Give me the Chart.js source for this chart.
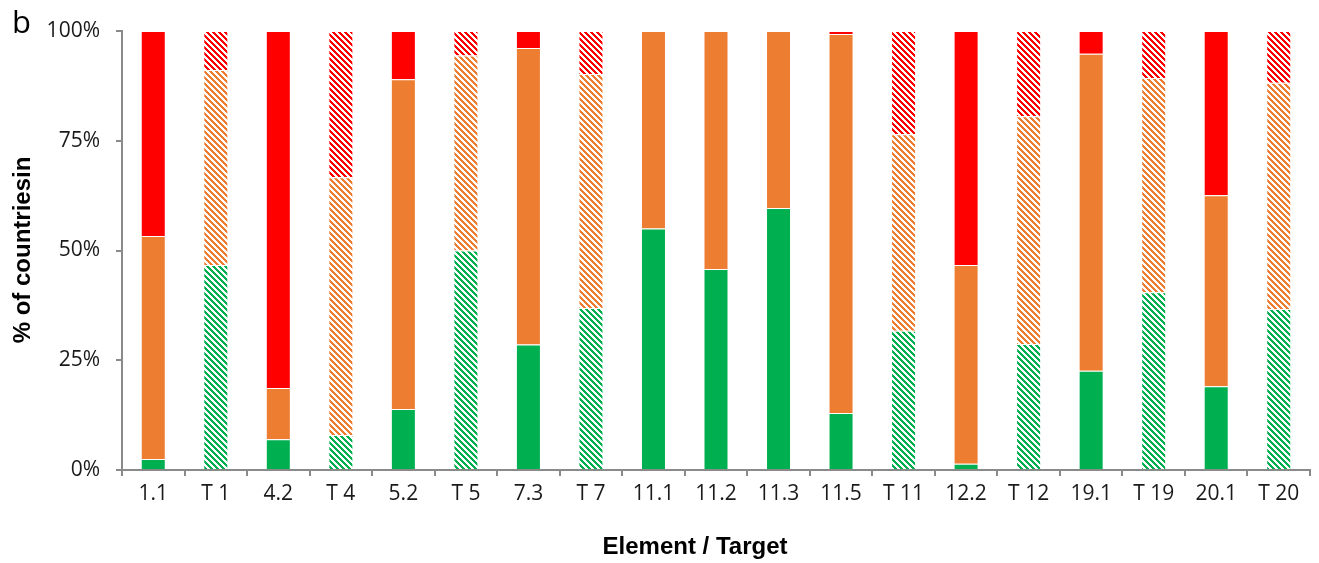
<!DOCTYPE html>
<html>
<head>
<meta charset="utf-8">
<script src="https://cdn.jsdelivr.net/npm/chart.js@4.4.1/dist/chart.umd.min.js"></script>
<style>
  html, body { margin: 0; padding: 0; background: #fff; }
  #wrap { width: 1319px; height: 563px; position: relative; }
</style>
</head>
<body>
<div id="wrap"><canvas id="c" width="1319" height="563"></canvas></div>
<script>
// ---- data ----
const categories = ['1.1','T 1','4.2','T 4','5.2','T 5','7.3','T 7','11.1','11.2','11.3','11.5','T 11','12.2','T 12','19.1','T 19','20.1','T 20'];
const isTarget   = [false,true,false,true,false,true,false,true,false,false,false,false,true,false,true,false,true,false,true];
const greenVals  = [2.5, 46.7, 7.0, 8.0, 13.9, 50.0, 28.6, 36.9, 55.0, 45.8, 59.7, 13.0, 31.7, 1.4, 28.7, 22.6, 40.5, 19.1, 36.7];
const orangeVals = [50.8, 44.4, 11.7, 58.7, 75.1, 44.4, 67.5, 53.3, 45.0, 54.2, 40.3, 86.3, 44.8, 45.3, 51.9, 72.2, 48.8, 43.5, 51.5];
const redVals    = [46.7, 8.9, 81.3, 33.3, 11.0, 5.6, 3.9, 9.8, 0, 0, 0, 0.7, 23.5, 53.3, 19.4, 5.2, 10.7, 37.4, 11.8];
const yTicks     = [0, 25, 50, 75, 100];

const GREEN = '#00B050', ORANGE = '#ED7D31', RED = '#FF0000';

function makePattern(color) {
  const size = 6;
  const cv = document.createElement('canvas');
  cv.width = size; cv.height = size;
  const cx = cv.getContext('2d');
  cx.fillStyle = '#ffffff';
  cx.fillRect(0, 0, size, size);
  cx.fillStyle = color;
  for (let y = 0; y < size; y++) {
    for (let x = 0; x < size; x++) {
      if ((((x - y) % size) + size) % size < 3) cx.fillRect(x, y, 1, 1);
    }
  }
  return document.getElementById('c').getContext('2d').createPattern(cv, 'repeat');
}

function fills(color) {
  const pat = makePattern(color);
  return isTarget.map(t => t ? pat : color);
}
function borders() {
  return isTarget.map(t => t ? '#ffffff' : 'rgba(255,255,255,0.55)');
}

const titlePlugin = {
  id: 'titles',
  afterDraw(chart) {
    const ctx = chart.ctx;
    ctx.save();
    ctx.fillStyle = '#000';
    ctx.textBaseline = 'alphabetic';
    ctx.textAlign = 'left';
    ctx.font = '31px "Open Sans"';
    ctx.fillText('b', 12, 33);
    ctx.textBaseline = 'middle';
    ctx.textAlign = 'center';
    ctx.font = 'bold 24px "Liberation Sans"';
    ctx.fillText('Element / Target', 695, 547);
    ctx.translate(23, 250);
    ctx.rotate(-Math.PI / 2);
    ctx.fillText('% of countriesin', 0, 0);
    ctx.restore();
  }
};

const axisColor = '#8a8a8a';
const tickFont = { family: '"Open Sans"', size: 21 };

new Chart(document.getElementById('c'), {
  type: 'bar',
  data: {
    labels: categories,
    datasets: [
      { label: 'green', data: greenVals, backgroundColor: fills(GREEN), borderColor: borders(), borderWidth: 1 },
      { label: 'orange', data: orangeVals, backgroundColor: fills(ORANGE), borderColor: borders(), borderWidth: 1 },
      { label: 'red', data: redVals, backgroundColor: fills(RED), borderColor: borders(), borderWidth: 1 }
    ]
  },
  options: {
    responsive: false,
    animation: false,
    devicePixelRatio: 1,
    barPercentage: 0.4,
    categoryPercentage: 1.0,
    layout: { padding: { top: 31, right: 9, left: 0, bottom: 0 } },
    plugins: { legend: { display: false }, tooltip: { enabled: false }, title: { display: false } },
    scales: {
      x: {
        stacked: true,
        grid: { drawOnChartArea: false, drawTicks: true, tickLength: 6, color: axisColor, lineWidth: 2, offset: true },
        border: { color: axisColor, width: 2 },
        ticks: { color: '#1a1a1a', font: tickFont, padding: 5, maxRotation: 0, autoSkip: false },
        afterFit(scale) { scale.height = 93; }
      },
      y: {
        stacked: true,
        min: 0, max: 100,
        afterBuildTicks(scale) { scale.ticks = yTicks.map(v => ({ value: v })); },
        grid: { drawOnChartArea: false, drawTicks: true, tickLength: 6, color: axisColor, lineWidth: 2 },
        border: { color: axisColor, width: 2 },
        ticks: { color: '#1a1a1a', font: tickFont, padding: 16, callback: v => v + '%' },
        afterFit(scale) { scale.width = 122; }
      }
    }
  },
  plugins: [titlePlugin]
});
</script>
</body>
</html>
